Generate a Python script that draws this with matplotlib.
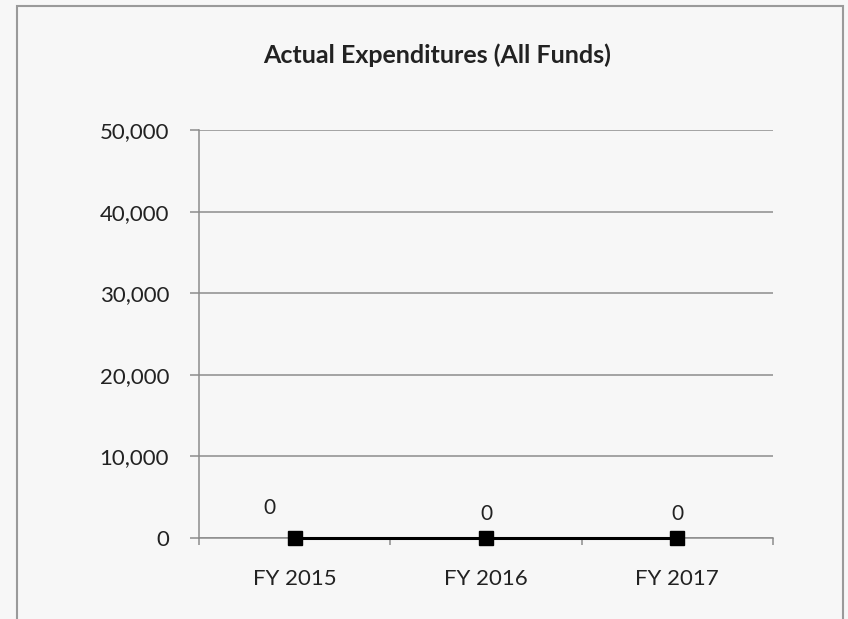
import matplotlib.pyplot as plt
from matplotlib.patches import Rectangle
from matplotlib.ticker import FuncFormatter, FixedLocator

plt.rcParams['font.family'] = ['Lato', 'DejaVu Sans']

categories = ['FY 2015', 'FY 2016', 'FY 2017']
expenditures = [0, 0, 0]
point_labels = ['0', '0', '0']
y_ticks = [0, 10000, 20000, 30000, 40000, 50000]

BG = '#f7f7f7'
GRID = '#8c8c8c'
TEXT = '#222222'

fig = plt.figure(figsize=(8.48, 6.19), dpi=100, facecolor=BG)
ax = fig.add_axes([199 / 848, 1 - 538 / 619, (773 - 199) / 848, (538 - 130) / 619])
ax.set_facecolor(BG)

# chart frame (bottom edge falls outside the picture)
fig.patches.append(Rectangle((17 / 848, -0.05), (843 - 17) / 848, 1.05 - 6 / 619,
                             transform=fig.transFigure, fill=False,
                             edgecolor='#9a9a9a', linewidth=1.5))

xs = [i + 0.5 for i in range(len(categories))]
ax.plot(xs, expenditures, color='black', linewidth=2.2, marker='s',
        markersize=10, markerfacecolor='black', zorder=5, clip_on=False)

label_offsets = [(-25, 30), (0, 24), (0, 24)]
for x, v, lab, off in zip(xs, expenditures, point_labels, label_offsets):
    ax.annotate(lab, (x, v), xytext=off, textcoords='offset pixels',
                ha='center', va='center', fontsize=15, color=TEXT)

ax.set_xlim(0, len(categories))
ax.set_ylim(0, 50000)
ax.set_yticks(y_ticks)
ax.yaxis.set_major_formatter(FuncFormatter(lambda v, p: f'{int(v):,}'))
ax.grid(axis='y', color=GRID, linewidth=1.1)
ax.set_axisbelow(True)

ax.xaxis.set_major_locator(FixedLocator(range(len(categories) + 1)))
ax.xaxis.set_major_formatter(FuncFormatter(lambda v, p: ''))
ax.xaxis.set_minor_locator(FixedLocator(xs))
ax.set_xticklabels(categories, minor=True)
ax.tick_params(axis='x', which='major', length=5, width=1.1, color=GRID, direction='out')
ax.tick_params(axis='x', which='minor', length=0, pad=22, labelsize=16, labelcolor=TEXT)
ax.tick_params(axis='y', length=6.5, width=1.1, color=GRID, pad=15, labelsize=16, labelcolor=TEXT)

for side in ('top', 'right'):
    ax.spines[side].set_visible(False)
for side in ('left', 'bottom'):
    ax.spines[side].set_color(GRID)
    ax.spines[side].set_linewidth(1.1)

fig.text(437 / 848, 1 - 55 / 619, 'Actual Expenditures (All Funds)', ha='center', va='center',
         fontsize=18, fontweight='bold', color=TEXT)

fig.savefig('out.png', dpi=100, facecolor=BG)
